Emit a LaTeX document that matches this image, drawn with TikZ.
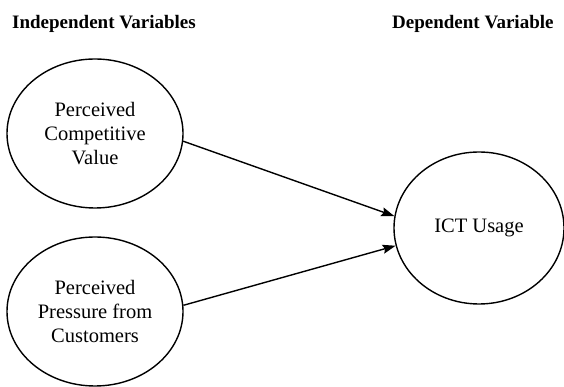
\documentclass[tikz,border=0pt]{standalone}
\usepackage{fontspec}
\setmainfont{Liberation Serif}
\usetikzlibrary{shapes.geometric,arrows.meta}
\tikzset{
  var/.style={ellipse, draw, line width=1.4pt, minimum width=176pt, minimum height=149pt, inner sep=0pt, align=center, font=\fontsize{20.5}{24}\selectfont},
  header/.style={anchor=base west, inner sep=0pt, font=\fontsize{19}{22}\selectfont\bfseries},
  link/.style={line width=1.4pt, -{Stealth[length=13pt,width=9pt,inset=2pt]}}
}
\begin{document}
\begin{tikzpicture}[x=1pt,y=1pt]
\useasboundingbox (0,0) rectangle (564,387);
\node[header] (h1) at (12,358) {Independent Variables};
\node[header] (h2) at (392,358) {Dependent Variable};
\node[var] (e1) at (95,253.5) {Perceived\\Competitive\\Value};
\node[var] (e2) at (95,75.5) {Perceived\\Pressure from\\Customers};
\node[var, minimum width=170pt, minimum height=152pt] (e3) at (479,159) {ICT Usage};
\draw[link] (e1.-5) -- (e3.172);
\draw[link] (e2.4) -- (e3.192);
\end{tikzpicture}
\end{document}
